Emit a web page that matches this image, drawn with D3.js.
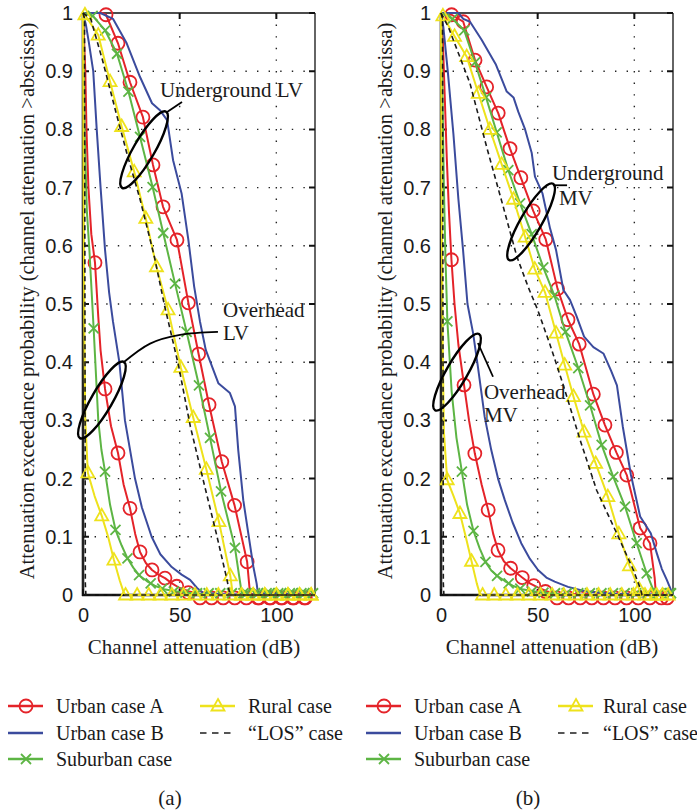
<!DOCTYPE html>
<html>
<head>
<meta charset="utf-8">
<script src="https://cdnjs.cloudflare.com/ajax/libs/d3/7.8.5/d3.min.js"></script>
<style>
  body { margin: 0; background: #fff; }
  svg { display: block; font-family: "Liberation Serif", "Times New Roman", serif; }
</style>
</head>
<body>
<div id="chart"></div>
<script>
// axis values
var xTicks = [0, 50, 100];
var yTicks = [0, 0.1, 0.2, 0.3, 0.4, 0.5, 0.6, 0.7, 0.8, 0.9, 1];
var yTickLabels = ["0", "0.1", "0.2", "0.3", "0.4", "0.5", "0.6", "0.7", "0.8", "0.9", "1"];
var gridX = [50, 100];
var gridY = [0.1, 0.2, 0.3, 0.4, 0.5, 0.6, 0.7, 0.8, 0.9];
var seriesNames = ["Urban case A", "Urban case B", "Suburban case", "Rural case", "\u201cLOS\u201d case"];
var panelTags = ["(a)", "(b)"];
var xTitle = "Channel attenuation (dB)";
var yTitle = "Attenuation exceedance probability (channel attenuation >abscissa)";

// ---- panel (a): LV, [dB, probability] ----
var aRedOh = [[0,1],[1.2,0.9],[1.8,0.8],[2.8,0.7],[4.3,0.62],[6.2,0.571],[7.9,0.478],[9.1,0.42],[11.4,0.354],[14.5,0.29],[18.1,0.244],[21,0.19],[24.3,0.149],[27,0.105],[29.5,0.074],[32.5,0.055],[35.7,0.043],[39,0.035],[42.4,0.029],[46,0.02],[50,0.012],[55,0.006],[60,0.002],[70,0],[120,0]];
var aRedOhMk = [[6.2,0.571],[11.4,0.354],[18.1,0.244],[24.3,0.149],[29.5,0.074],[35.7,0.043],[42.4,0.029],[48.5,0.015],[54.5,0.004],[60.5,-0.005],[66.5,-0.005],[72.5,-0.005],[78.5,-0.005],[84.5,-0.005],[90.5,-0.005],[96.5,-0.005],[102.5,-0.005],[108.5,-0.005],[114.5,-0.005]];
var aRedUg = [[0,1],[10,1],[11.9,0.997],[18.1,0.948],[24.3,0.881],[31,0.821],[36.2,0.739],[41.4,0.667],[48.6,0.61],[54.5,0.502],[59.8,0.414],[65.2,0.327],[71.8,0.229],[78.4,0.154],[84.9,0.057],[86.4,0.002],[88,0],[120,0]];
var aRedUgMk = [[11.9,0.997],[18.1,0.948],[24.3,0.881],[31,0.821],[36.2,0.739],[41.4,0.667],[48.6,0.61],[54.5,0.502],[59.8,0.414],[65.2,0.327],[71.8,0.229],[78.4,0.154],[84.9,0.057],[91,-0.005],[97,-0.005],[103,-0.005],[109,-0.005],[115,-0.005]];
var aBlueOh = [[0,1],[1.5,0.98],[3,0.95],[5.3,0.9],[7.1,0.8],[9.1,0.7],[11.4,0.593],[13.5,0.52],[15.5,0.47],[18.8,0.4],[21.7,0.3],[26.9,0.2],[30.5,0.15],[35.5,0.1],[40,0.07],[45.9,0.048],[51,0.035],[55.4,0.026],[59,0.012],[62,0.004],[75,0.001],[120,0]];
var aBlueUg = [[0,1],[9,1],[15.5,0.99],[22.6,0.948],[29.5,0.89],[35.7,0.845],[39.8,0.833],[43.5,0.816],[46.6,0.747],[51,0.69],[54.5,0.61],[57.5,0.53],[60.5,0.47],[63.5,0.421],[70,0.364],[76,0.347],[78.6,0.324],[80.3,0.249],[82.9,0.163],[85.5,0.106],[88.1,0.049],[89.8,0.02],[90.5,0.003],[120,0]];
var aGreenOh = [[0,1],[0.8,0.8],[2,0.66],[3.3,0.593],[5.5,0.458],[7.9,0.3],[9.5,0.25],[11.4,0.212],[14,0.155],[16.8,0.112],[20,0.085],[23,0.063],[26,0.047],[29,0.034],[33,0.024],[37,0.016],[42,0.01],[50,0.005],[60,0.002],[70,0],[120,0]];
var aGreenOhMk = [[5.5,0.458],[11.4,0.212],[16.8,0.112],[23,0.063],[29,0.034],[35,0.02],[41,0.011],[47,0.006],[53,0.004],[59,0.003],[65,0.003],[71,0.003],[77,0.003],[83,0.003],[89,0.003],[95,0.003],[101,0.003],[107,0.003],[113,0.003],[119,0.003]];
var aGreenUg = [[0,1],[5,0.995],[11.5,0.97],[17.6,0.93],[23.5,0.865],[29.5,0.787],[36,0.701],[41.5,0.622],[47.6,0.535],[53.6,0.452],[60,0.36],[65.7,0.27],[71.4,0.178],[78.6,0.081],[82.1,0.003],[84,0],[120,0]];
var aGreenUgMk = [[5,0.995],[11.5,0.97],[17.6,0.93],[23.5,0.865],[29.5,0.787],[36,0.701],[41.5,0.622],[47.6,0.535],[53.6,0.452],[60,0.36],[65.7,0.27],[71.4,0.178],[78.6,0.081],[84.6,0.003],[90.6,0.003],[96.6,0.003],[102.6,0.003],[108.6,0.003],[114.6,0.003]];
var aYellowOh = [[0,1],[0.3,0.7],[0.7,0.45],[1.2,0.3],[2.5,0.21],[6,0.17],[9.7,0.136],[13,0.1],[16,0.06],[19,0.025],[21,0.005],[22,0],[120,0]];
var aYellowOhMk = [[2.5,0.21],[9.7,0.136],[16,0.06],[22,0],[28,0],[34,0],[40,0],[46,0],[52,0],[58,0],[64,0],[70,0],[76,0],[82,0],[88,0],[94,0],[100,0],[106,0],[112,0],[118,0]];
var aYellowUg = [[0,1],[1,0.997],[7.9,0.962],[14,0.882],[20,0.805],[26.5,0.727],[32.5,0.647],[38,0.564],[44,0.49],[50.6,0.391],[57,0.305],[63.8,0.216],[70.3,0.126],[76.2,0.033],[77.5,0],[120,0]];
var aYellowUgMk = [[1,0.997],[7.9,0.962],[14,0.882],[20,0.805],[26.5,0.727],[32.5,0.647],[38,0.564],[44,0.49],[50.6,0.391],[57,0.305],[63.8,0.216],[70.3,0.126],[76.2,0.033],[82,0],[88,0],[94,0],[100,0],[106,0],[112,0],[118,0]];
var aLosOh = [[0,1],[0.8,0.99],[1,0.5],[1.2,0.02],[1.5,0],[120,0]];
var aLosUg = [[0,1],[4,0.99],[10,0.92],[17,0.83],[22.6,0.76],[29.5,0.68],[37,0.58],[42,0.5],[49.5,0.393],[55.5,0.29],[62.5,0.193],[69,0.105],[74.5,0.026],[76,0],[120,0]];

// ---- panel (b): MV ----
var bRedOh = [[0,1],[1,0.95],[2,0.85],[3,0.75],[4.1,0.66],[5.4,0.576],[7,0.5],[9,0.43],[11.9,0.361],[14.5,0.3],[17.5,0.243],[21,0.19],[24.4,0.146],[27,0.105],[29.5,0.077],[32.5,0.058],[36,0.046],[42,0.03],[46,0.02],[50,0.013],[55,0.006],[60,0.002],[70,0],[120,0]];
var bRedOhMk = [[5.4,0.576],[11.9,0.361],[17.5,0.243],[24.4,0.146],[29.5,0.077],[36,0.046],[42,0.03],[48,0.016],[54,0.006],[60,-0.005],[66,-0.005],[72,-0.005],[78,-0.005],[84,-0.005],[90,-0.005],[96,-0.005],[102,-0.005],[108,-0.005],[114,-0.005]];
var bRedUg = [[0,1],[5.5,0.997],[11.5,0.985],[17.6,0.919],[23.6,0.873],[29.6,0.828],[35.7,0.767],[41.3,0.717],[47.7,0.66],[54.2,0.611],[60.3,0.526],[65.7,0.473],[71.5,0.431],[78.8,0.345],[84.8,0.292],[90.7,0.245],[96.1,0.206],[103,0.115],[108.1,0.089],[110.5,0.03],[111.2,0],[120,0]];
var bRedUgMk = [[5.5,0.997],[11.5,0.985],[17.6,0.919],[23.6,0.873],[29.6,0.828],[35.7,0.767],[41.3,0.717],[47.7,0.66],[54.2,0.611],[60.3,0.526],[65.7,0.473],[71.5,0.431],[78.8,0.345],[84.8,0.292],[90.7,0.245],[96.1,0.206],[103,0.115],[108.1,0.089],[117,-0.005]];
var bBlueOh = [[0,1],[1.2,0.976],[3.5,0.9],[6.4,0.793],[9,0.68],[11.4,0.593],[13.7,0.5],[16.6,0.45],[19.1,0.392],[22.6,0.306],[26,0.249],[29.5,0.2],[33,0.163],[37,0.125],[41.5,0.089],[46,0.062],[50.2,0.043],[54.5,0.03],[58.8,0.023],[65.7,0.014],[75,0.006],[90,0.002],[120,0]];
var bBlueUg = [[0,1],[9,1],[11.5,0.99],[15,0.985],[21,0.954],[28.3,0.912],[34,0.865],[37.5,0.855],[40,0.83],[43.5,0.8],[46.9,0.76],[48.6,0.719],[52.5,0.69],[56.4,0.63],[59.5,0.593],[63.3,0.524],[66.7,0.507],[70,0.48],[74,0.444],[78.8,0.426],[84,0.415],[88,0.385],[91,0.36],[94,0.29],[98.2,0.207],[103,0.135],[108.5,0.106],[111.6,0.072],[114.2,0.045],[116.8,0.026],[119.4,0.005],[120,0]];
var bGreenOh = [[0,1],[0.8,0.85],[1.5,0.7],[2.3,0.58],[3.3,0.47],[5.5,0.35],[8,0.27],[10.8,0.212],[13.5,0.155],[16.8,0.11],[20,0.08],[23,0.057],[26,0.042],[29,0.033],[33,0.024],[37,0.016],[42,0.01],[50,0.005],[60,0.002],[70,0],[120,0]];
var bGreenOhMk = [[3.3,0.47],[10.8,0.212],[16.8,0.11],[23,0.057],[29,0.033],[35,0.02],[41,0.011],[47,0.006],[53,0.004],[59,0.003],[65,0.003],[71,0.003],[77,0.003],[83,0.003],[89,0.003],[95,0.003],[101,0.003],[107,0.003],[113,0.003],[119,0.003]];
var bGreenUg = [[0,1],[6,0.99],[12,0.97],[17.6,0.915],[23.3,0.855],[28.8,0.795],[34.8,0.73],[40.9,0.673],[46.9,0.62],[52.9,0.563],[58.6,0.515],[64.4,0.452],[71,0.39],[77.1,0.326],[83.1,0.258],[89.1,0.203],[95.2,0.152],[101.2,0.089],[106.4,0.037],[110.5,0.003],[112,0],[120,0]];
var bGreenUgMk = [[6,0.99],[12,0.97],[17.6,0.915],[23.3,0.855],[28.8,0.795],[34.8,0.73],[40.9,0.673],[46.9,0.62],[52.9,0.563],[58.6,0.515],[64.4,0.452],[71,0.39],[77.1,0.326],[83.1,0.258],[89.1,0.203],[95.2,0.152],[101.2,0.089],[106.4,0.037],[112.4,0.003],[118.4,0.003]];
var bYellowOh = [[0,1],[0.3,0.7],[0.8,0.45],[1.5,0.28],[3.2,0.198],[6.5,0.17],[9.8,0.14],[12.8,0.1],[15.8,0.058],[18.5,0.02],[20,0.003],[21,0],[120,0]];
var bYellowOhMk = [[3.2,0.198],[9.8,0.14],[15.8,0.058],[21.5,0],[27.5,0],[33.5,0],[39.5,0],[45.5,0],[51.5,0],[57.5,0],[63.5,0],[69.5,0],[75.5,0],[81.5,0],[87.5,0],[93.5,0],[99.5,0],[105.5,0],[111.5,0],[117.5,0]];
var bYellowUg = [[0,1],[1,0.995],[7,0.96],[13.3,0.925],[19.3,0.862],[25.3,0.8],[31.4,0.74],[37.5,0.68],[43.5,0.615],[48.5,0.56],[53.8,0.52],[59.5,0.45],[64,0.395],[68.5,0.341],[74,0.28],[80,0.226],[86.3,0.169],[92,0.105],[97.5,0.05],[102.5,0.01],[104,0],[120,0]];
var bYellowUgMk = [[1,0.995],[7,0.96],[13.3,0.925],[19.3,0.862],[25.3,0.8],[31.4,0.74],[37.5,0.68],[43.5,0.615],[48.5,0.56],[53.8,0.52],[59.5,0.45],[64,0.395],[68.5,0.341],[74,0.28],[80,0.226],[86.3,0.169],[92,0.105],[97.5,0.05],[102.5,0.01],[108.5,0],[114.5,0]];
var bLosOh = [[0,1],[0.8,0.99],[1,0.5],[1.2,0.02],[1.5,0],[120,0]];
var bLosUg = [[0,1],[3.8,0.976],[15,0.879],[23.6,0.77],[32.2,0.667],[39.2,0.582],[45,0.53],[50,0.49],[56.4,0.43],[63.3,0.36],[72,0.266],[80.5,0.18],[90.9,0.106],[99.5,0.043],[103,0.012],[104,0],[120,0]];

var W = 697, H = 811;
var plotTop = 13, plotBottom = 595, plotWidth = 232;

// one entry per legend series: lines (overhead, underground) and markers
var styles = [
  { color: "#e42329", mark: "circle", width: 2 },
  { color: "#3b4b9d", mark: null, width: 2 },
  { color: "#5db544", mark: "cross", width: 2 },
  { color: "#eee21c", mark: "triangle", width: 2 },
  { color: "#1b1b1b", mark: null, width: 1.6, dash: "5,3.5" }
];

var panels = [
  {
    left: 83,
    lines: [[aRedOh, aRedUg], [aBlueOh, aBlueUg], [aGreenOh, aGreenUg], [aYellowOh, aYellowUg], [aLosOh, aLosUg]],
    marks: [[aRedOhMk, aRedUgMk], [], [aGreenOhMk, aGreenUgMk], [aYellowOhMk, aYellowUgMk], []],
    ellipses: [[31.6, 0.765], [9.8, 0.335]],
    leaders: [[[43.5, 0.83], [51.2, 0.847]], [[20.7, 0.399], [34.7, 0.432], [50.2, 0.447], [69.8, 0.452]]],
    notes: [["Underground LV", 39.8, 0.856], ["Overhead", 72.4, 0.478], ["LV", 72.4, 0.438]]
  },
  {
    left: 441,
    lines: [[bRedOh, bRedUg], [bBlueOh, bBlueUg], [bGreenOh, bGreenUg], [bYellowOh, bYellowUg], [bLosOh, bLosUg]],
    marks: [[bRedOhMk, bRedUgMk], [], [bGreenOhMk, bGreenUgMk], [bYellowOhMk, bYellowUgMk], []],
    ellipses: [[46.6, 0.641], [8.3, 0.383]],
    leaders: [[[57.9, 0.704], [65.2, 0.704]], [[19.1, 0.433], [26.9, 0.375]]],
    notes: [["Underground", 57.4, 0.713], ["MV", 61, 0.67], ["Overhead", 22.2, 0.337], ["MV", 22.2, 0.297]]
  }
];

var svg = d3.select("#chart").append("svg")
    .attr("width", W)
    .attr("height", H);

svg.append("rect").attr("width", W).attr("height", H).attr("fill", "#fff");

function drawMarks(g, pts, x, y, type, color) {
    var enter = g.selectAll(null).data(pts).enter();
    if (type === "circle") {
        enter.append("circle")
            .attr("cx", function(d) { return x(d[0]); })
            .attr("cy", function(d) { return y(d[1]); })
            .attr("r", 6.5)
            .attr("fill", "none")
            .attr("stroke", color)
            .attr("stroke-width", 1.8);
    } else {
        var shape = type === "cross" ? "M-5,-5L5,5M-5,5L5,-5" : "M0,-7L6.5,4.5L-6.5,4.5Z";
        enter.append("path")
            .attr("transform", function(d) { return "translate(" + x(d[0]) + "," + y(d[1]) + ")"; })
            .attr("d", shape)
            .attr("fill", "none")
            .attr("stroke", color)
            .attr("stroke-width", 1.8);
    }
}

panels.forEach(function(p, pi) {
    var x = d3.scaleLinear().domain([0, 120]).range([p.left, p.left + plotWidth]);
    var y = d3.scaleLinear().domain([0, 1]).range([plotBottom, plotTop]);
    var g = svg.append("g");
    var dx = p.left - 83;

    //grid
    g.selectAll(null).data(gridX).enter().append("line")
        .attr("x1", function(d) { return x(d); }).attr("x2", function(d) { return x(d); })
        .attr("y1", plotTop).attr("y2", plotBottom)
        .attr("stroke", "#222").attr("stroke-width", 1.4).attr("stroke-dasharray", "1.4,10.2");
    g.selectAll(null).data(gridY).enter().append("line")
        .attr("x1", p.left).attr("x2", p.left + plotWidth)
        .attr("y1", function(d) { return y(d); }).attr("y2", function(d) { return y(d); })
        .attr("stroke", "#222").attr("stroke-width", 1.4).attr("stroke-dasharray", "1.4,10.2");

    //box
    g.append("line").attr("x1", x(0)).attr("x2", x(120)).attr("y1", y(1)).attr("y2", y(1))
        .attr("stroke", "#111").attr("stroke-width", 1.3);
    g.append("line").attr("x1", x(120)).attr("x2", x(120)).attr("y1", y(0)).attr("y2", y(1))
        .attr("stroke", "#111").attr("stroke-width", 1.3);
    g.append("line").attr("x1", x(0)).attr("x2", x(0)).attr("y1", y(0) + 1).attr("y2", y(1))
        .attr("stroke", "#222").attr("stroke-width", 2.6);
    g.append("line").attr("x1", x(0) - 1).attr("x2", x(120)).attr("y1", y(0)).attr("y2", y(0))
        .attr("stroke", "#111").attr("stroke-width", 2.6);

    //inward ticks
    g.selectAll(null).data(yTicks).enter().append("path")
        .attr("d", function(d) {
            return "M" + x(0) + "," + y(d) + "h6M" + x(120) + "," + y(d) + "h-6";
        })
        .attr("stroke", "#111").attr("stroke-width", 2);
    g.selectAll(null).data(xTicks).enter().append("path")
        .attr("d", function(d) {
            return "M" + x(d) + "," + y(0) + "v-6M" + x(d) + "," + y(1) + "v6";
        })
        .attr("stroke", "#111").attr("stroke-width", 2);

    //tick labels
    g.append("g")
        .attr("transform", "translate(" + p.left + ",0)")
        .call(d3.axisLeft(y).tickValues(yTicks).tickSize(0).tickPadding(10)
            .tickFormat(function(d, i) { return yTickLabels[i]; }))
        .call(function(a) { a.select(".domain").remove(); })
        .selectAll("text").attr("font-size", 20).attr("font-family", null).attr("fill", "#1a1a1a");
    g.append("g")
        .attr("transform", "translate(0," + plotBottom + ")")
        .call(d3.axisBottom(x).tickValues(xTicks).tickSize(0).tickPadding(13).tickFormat(d3.format("d")))
        .call(function(a) { a.select(".domain").remove(); })
        .selectAll("text").attr("font-size", 20).attr("font-family", null).attr("fill", "#1a1a1a");

    //axis titles
    g.append("text")
        .attr("transform", "translate(" + (34 + dx) + ",301) rotate(-90)")
        .attr("text-anchor", "middle")
        .attr("font-size", 20.6)
        .attr("fill", "#1a1a1a")
        .text(yTitle);
    g.append("text")
        .attr("x", p.left + 111).attr("y", 654)
        .attr("text-anchor", "middle")
        .attr("font-size", 21)
        .attr("fill", "#1a1a1a")
        .text(xTitle);

    //curves
    var line = d3.line()
        .x(function(d) { return x(d[0]); })
        .y(function(d) { return y(d[1]); });

    styles.forEach(function(s, si) {
        p.lines[si].forEach(function(pts) {
            g.append("path")
                .attr("d", line(pts))
                .attr("fill", "none")
                .attr("stroke", s.color)
                .attr("stroke-width", s.width)
                .attr("stroke-linejoin", "round")
                .attr("stroke-dasharray", s.dash || null);
        });
        p.marks[si].forEach(function(pts) {
            drawMarks(g, pts, x, y, s.mark, s.color);
        });
    });

    //annotations
    p.ellipses.forEach(function(c) {
        g.append("ellipse")
            .attr("cx", x(c[0])).attr("cy", y(c[1]))
            .attr("rx", 44).attr("ry", 10.5)
            .attr("transform", "rotate(-60," + x(c[0]) + "," + y(c[1]) + ")")
            .attr("fill", "none")
            .attr("stroke", "#000")
            .attr("stroke-width", 2.4);
    });
    var leader = d3.line()
        .x(function(d) { return x(d[0]); })
        .y(function(d) { return y(d[1]); })
        .curve(d3.curveCardinal);
    p.leaders.forEach(function(pts) {
        g.append("path")
            .attr("d", leader(pts))
            .attr("fill", "none")
            .attr("stroke", "#000")
            .attr("stroke-width", 1.8);
    });
    p.notes.forEach(function(n) {
        g.append("text")
            .attr("x", x(n[1])).attr("y", y(n[2]))
            .attr("font-size", 21)
            .attr("fill", "#1a1a1a")
            .text(n[0]);
    });

    //legend
    var cols = [8, 200], rows = [706, 733, 759];
    var slots = [[0, 0], [0, 1], [0, 2], [1, 0], [1, 1]];
    seriesNames.forEach(function(name, si) {
        var s = styles[si];
        var lx = cols[slots[si][0]] + dx, ly = rows[slots[si][1]];
        var lg = g.append("g");
        lg.append("line")
            .attr("x1", lx).attr("x2", lx + 35).attr("y1", ly).attr("y2", ly)
            .attr("stroke", si === 4 ? "#555" : s.color)
            .attr("stroke-width", si === 4 ? 2 : 2.6)
            .attr("stroke-dasharray", si === 4 ? "6.5,5.5" : null);
        if (s.mark) {
            drawMarks(lg, [[lx + 18, ly]], function(v) { return v; }, function(v) { return v; }, s.mark, s.color);
        }
        lg.append("text")
            .attr("x", lx + (slots[si][0] === 1 && pi === 1 ? 45 : 48)).attr("y", ly + 7)
            .attr("font-size", 20)
            .attr("fill", "#1a1a1a")
            .text(name);
    });

    g.append("text")
        .attr("x", 170 + dx).attr("y", 805)
        .attr("text-anchor", "middle")
        .attr("font-size", 21)
        .attr("fill", "#1a1a1a")
        .text(panelTags[pi]);
});
</script>
</body>
</html>
